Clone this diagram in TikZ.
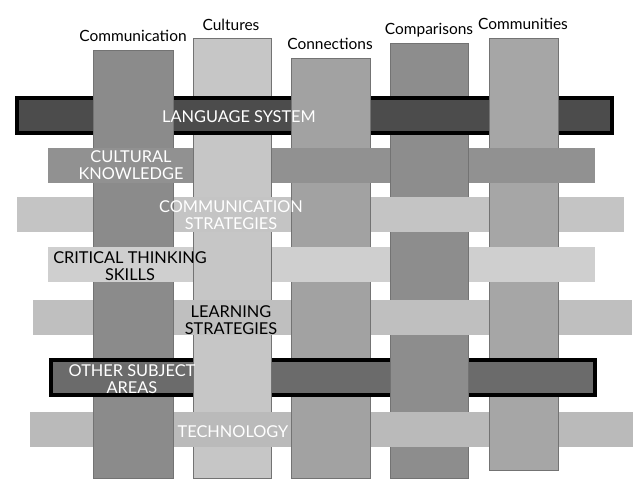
\documentclass[tikz,border=0pt]{standalone}
\usepackage{fontspec}
\setmainfont{Lato}
\usetikzlibrary{positioning}
\definecolor{commgray}{HTML}{8B8B8B}
\definecolor{cultgray}{HTML}{C6C6C6}
\definecolor{conngray}{HTML}{A2A2A2}
\definecolor{compgray}{HTML}{8D8D8D}
\definecolor{mmtygray}{HTML}{A6A6A6}

\begin{document}
\begin{tikzpicture}[x=0.02cm, y=-0.02cm,
  strand/.style={draw=black!55, line width=0.3pt},
  edge/.style={draw=black!55, line width=0.3pt},
  boxed/.style={draw=black, line width=2pt},
  head/.style={font=\fontsize{8.8}{10}\selectfont, inner sep=0pt},
  lab/.style={font=\fontsize{9.3}{10}\selectfont, align=center, inner sep=0pt}]
\useasboundingbox[fill=white] (0,0) rectangle (637,486);
% the five vertical strands, full length
\draw[strand, fill=commgray] (93,50) rectangle (173,478);
\draw[strand, fill=cultgray] (193,38) rectangle (271,478);
\draw[strand, fill=conngray] (291,58) rectangle (370,478);
\draw[strand, fill=compgray] (390,43) rectangle (468,478);
\draw[strand, fill=mmtygray] (489,38) rectangle (558,470);
% the seven horizontal strands, top to bottom
\draw[boxed, fill=black!70] (17,98) rectangle (612,133);
\draw[fill=black!43, draw=none] (48,148) rectangle (595,183);
\draw[fill=black!23, draw=none] (17,197) rectangle (624,232);
\draw[fill=black!19, draw=none] (48,247) rectangle (595,282);
\draw[fill=black!25, draw=none] (33,300) rectangle (632,335);
\draw[boxed, fill=black!58] (51,360) rectangle (595,395);
\draw[fill=black!27, draw=none] (30,412) rectangle (633,447);
% weave: vertical strands laid back on top where they cross over
\foreach \ya/\yb in {96/135,196/233,299/336,411/448} {
  \fill[commgray] (93,\ya) rectangle (173,\yb);
  \fill[conngray] (291,\ya) rectangle (370,\yb);
  \fill[mmtygray] (489,\ya) rectangle (558,\yb);
  \draw[edge] (93,\ya) -- (93,\yb) (173,\ya) -- (173,\yb)
              (291,\ya) -- (291,\yb) (370,\ya) -- (370,\yb)
              (489,\ya) -- (489,\yb) (558,\ya) -- (558,\yb);
}
\foreach \ya/\yb in {148/183,247/282,358/397} {
  \fill[cultgray] (193,\ya) rectangle (271,\yb);
  \fill[compgray] (390,\ya) rectangle (468,\yb);
  \draw[edge] (193,\ya) -- (193,\yb) (271,\ya) -- (271,\yb)
              (390,\ya) -- (390,\yb) (468,\ya) -- (468,\yb);
}
% strand names across the top
\node[head] (communication) at (133,36) {Communication};
\node[head] (cultures) at (231,25) {Cultures};
\node[head] (connections) at (330,44) {Connections};
\node[head] (comparisons) at (429,30) {Comparisons};
\node[head] (communities) at (523,24) {Communities};
% row labels
\node[lab, text=white] (language) at (239,117) {LANGUAGE SYSTEM};
\node[lab, text=white] (cultural) at (131,165) {CULTURAL\\KNOWLEDGE};
\node[lab, text=white] (commstrat) at (231,215) {COMMUNICATION\\STRATEGIES};
\node[lab] (critical) at (130,266) {CRITICAL THINKING\\SKILLS};
\node[lab] (learning) at (231,320) {LEARNING\\STRATEGIES};
\node[lab, text=white] (subject) at (132,379) {OTHER SUBJECT\\AREAS};
\node[lab, text=white] (technology) at (233,432) {TECHNOLOGY};
\end{tikzpicture}
\end{document}
